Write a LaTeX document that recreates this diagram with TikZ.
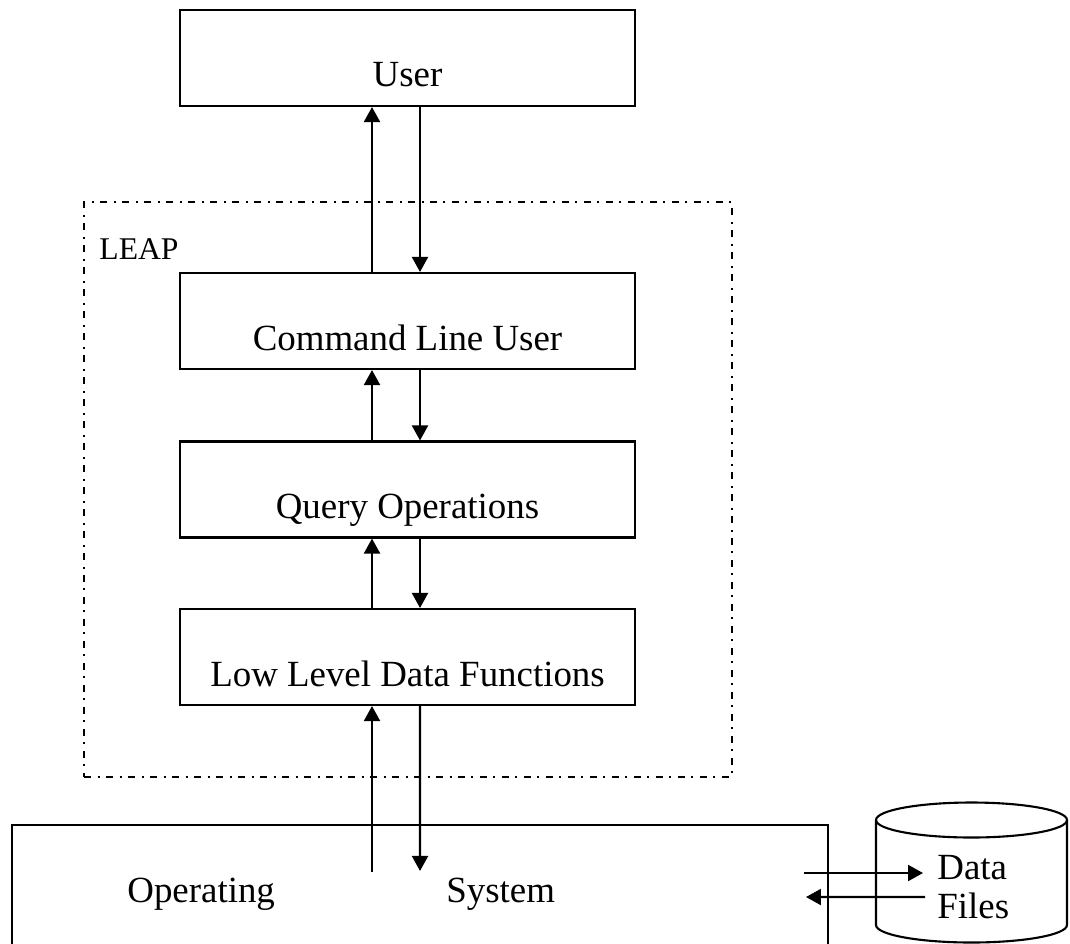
\documentclass[tikz,border=0pt]{standalone}
\usepackage{fontspec}
\setmainfont{Liberation Serif}
\usepackage{tikz}
\usetikzlibrary{positioning}
\usetikzlibrary{calc,arrows.meta}

\tikzset{
  layer/.style={draw,line width=1.2pt,minimum width=9.1cm,inner sep=0pt,
    text height=1.54cm,text depth=0.38cm,font=\fontsize{21}{25}\selectfont},
  flow/.style={line width=1.2pt,-{Triangle[width=0.32cm,length=0.3cm]}},
  dashdot/.style={line width=1.1pt,dash pattern=on 0.14cm off 0.13cm on 0.04cm off 0.13cm},
  word/.style={inner sep=0pt,font=\fontsize{21}{22}\selectfont}
}

\begin{document}
\begin{tikzpicture}[x=0.02cm,y=-0.02cm]
\useasboundingbox (0,0) rectangle (1070,943);
\path
(408,489.5) node [dashdot,draw,minimum width=12.96cm,minimum height=11.5cm](leap) {}
(407.5,58) node [layer](user) {User}
(407.5,321) node [layer](cmd) {Command Line User}
(407.5,489.5) node [layer](query) {Query Operations}
(407.5,657) node [layer](lowlvl) {Low Level Data Functions}
(420,892.5) node [draw,line width=1.2pt,minimum width=16.32cm,minimum height=2.7cm](os) {};
\node [word,font=\fontsize{18}{20}\selectfont,anchor=base west] at ($(leap.north west)+(16,58)$) {LEAP};
\node [word,anchor=base west](osleft) at ($(os.north west)+(116,79)$) {Operating};
\node [word,anchor=base west](osright) at ($(os.north west)+(435,79)$) {System};

% the data store
\draw [line width=1.2pt] (876,820) --(876,925)
  arc [start angle=180,end angle=360,x radius=1.91cm,y radius=0.35cm] --(1067,820);
\draw [line width=1.2pt] (971.5,820) ellipse [x radius=1.91cm,y radius=0.35cm];
\node [word,align=left,anchor=west](files) at (937,887) {Data\\Files};

% up and down between the layers
\draw [flow] ($(cmd.north)+(-35.5,0)$) --($(user.south)+(-35.5,0)$);
\draw [flow] ($(user.south)+(12.5,0)$) --($(cmd.north)+(12.5,0)$);
\draw [flow] ($(query.north)+(-35.5,0)$) --($(cmd.south)+(-35.5,0)$);
\draw [flow] ($(cmd.south)+(12.5,0)$) --($(query.north)+(12.5,0)$);
\draw [flow] ($(lowlvl.north)+(-35.5,0)$) --($(query.south)+(-35.5,0)$);
\draw [flow] ($(query.south)+(12.5,0)$) --($(lowlvl.north)+(12.5,0)$);
\draw [flow] ($(os.north)+(-48,48)$) --($(lowlvl.south)+(-35.5,0)$);
\draw [flow] ($(lowlvl.south)+(12.5,0)$) --($(os.north)+(0,47)$);

% to and from the files
\draw [flow] ($(os.east)+(-25,-19.5)$) --($(files.west)+(-14,-14)$);
\draw [flow] ($(files.west)+(-12,10)$) --($(os.east)+(-23,4.5)$);

\end{tikzpicture}
\end{document}
